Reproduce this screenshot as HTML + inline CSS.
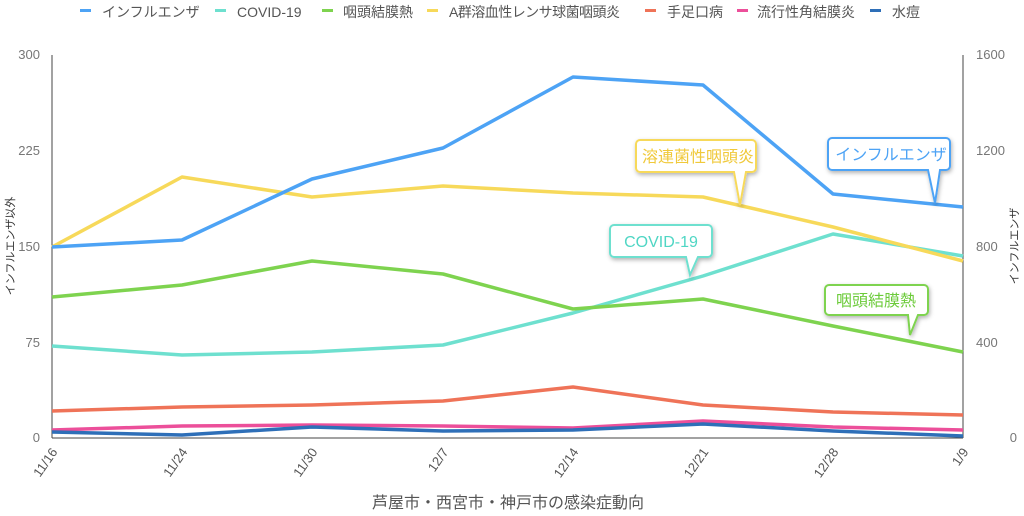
<!DOCTYPE html><html><head><meta charset="utf-8"><style>body{margin:0;background:#fff}svg{display:block;font-family:"Liberation Sans","Noto Sans CJK JP",sans-serif}</style></head><body>
<svg width="1024" height="516" viewBox="0 0 1024 516">
<defs><filter id="sh" x="-20%" y="-20%" width="140%" height="160%"><feDropShadow dx="1" dy="2" stdDeviation="2" flood-color="#000" flood-opacity="0.3"/></filter></defs>
<g font-size="14" fill="#555">
<rect x="80" y="9" width="11" height="3" fill="#4da3f5"/><text x="102" y="17">インフルエンザ</text>
<rect x="215" y="9" width="11" height="3" fill="#6ee0cf"/><text x="237" y="17">COVID-19</text>
<rect x="322" y="9" width="11" height="3" fill="#7ed34f"/><text x="343" y="17">咽頭結膜熱</text>
<rect x="427" y="9" width="11" height="3" fill="#f7d95a"/><text x="449" y="17" textLength="171">A群溶血性レンサ球菌咽頭炎</text>
<rect x="645" y="9" width="11" height="3" fill="#ef7358"/><text x="667" y="17">手足口病</text>
<rect x="737" y="9" width="11" height="3" fill="#ec4f9a"/><text x="757" y="17">流行性角結膜炎</text>
<rect x="870" y="9" width="11" height="3" fill="#2e6fb8"/><text x="892" y="17">水痘</text>
</g>
<line x1="52" y1="55" x2="52" y2="438" stroke="#444" stroke-width="1"/>
<line x1="963" y1="55" x2="963" y2="438" stroke="#444" stroke-width="1"/>
<line x1="52" y1="438" x2="963" y2="438" stroke="#444" stroke-width="1"/>
<g font-size="13" fill="#777" text-anchor="end">
<text x="40" y="59">300</text><text x="40" y="155">225</text><text x="40" y="251">150</text><text x="40" y="347">75</text><text x="40" y="442">0</text>
</g>
<g font-size="13" fill="#777" text-anchor="start">
<text x="976" y="59">1600</text><text x="976" y="155">1200</text><text x="976" y="251">800</text><text x="976" y="347">400</text><text x="1017" y="442" text-anchor="end">0</text>
</g>
<text transform="translate(14,246) rotate(-90)" font-size="11" fill="#333" text-anchor="middle">インフルエンザ以外</text>
<text transform="translate(1018,246) rotate(-90)" font-size="11" fill="#333" text-anchor="middle">インフルエンザ</text>
<g font-size="13" fill="#555" text-anchor="end">
<text transform="translate(58,452) rotate(-55)">11/16</text>
<text transform="translate(188,452) rotate(-55)">11/24</text>
<text transform="translate(318,452) rotate(-55)">11/30</text>
<text transform="translate(449,452) rotate(-55)">12/7</text>
<text transform="translate(579,452) rotate(-55)">12/14</text>
<text transform="translate(709,452) rotate(-55)">12/21</text>
<text transform="translate(839,452) rotate(-55)">12/28</text>
<text transform="translate(969,452) rotate(-55)">1/9</text>
</g>
<text x="508" y="508" font-size="16" fill="#555" text-anchor="middle">芦屋市・西宮市・神戸市の感染症動向</text>
<g fill="none" stroke-width="3.5" stroke-linejoin="round">
<polyline stroke="#ef7358" points="52,411 182,407 312,405 443,401 573,387 703,405 833,412 963,415"/>
<polyline stroke="#ec4f9a" points="52,430 182,426 312,425 443,426 573,428 703,421 833,427 963,430"/>
<polyline stroke="#2e6fb8" points="52,432 182,435 312,427 443,431 573,430 703,424 833,431 963,436"/>
<polyline stroke="#6ee0cf" points="52,346 182,355 312,352 443,345 573,313 703,276 833,234 963,256"/>
<polyline stroke="#7ed34f" points="52,297 182,285 312,261 443,274 573,309 703,299 833,326 963,352"/>
<polyline stroke="#f7d95a" points="52,247 182,177 312,197 443,186 573,193 703,197 833,227 963,261"/>
<polyline stroke="#4da3f5" points="52,247 182,240 312,179 443,148 573,77 703,85 833,194 963,207"/>
</g>
<g font-size="16" text-anchor="middle" stroke-width="2" filter="url(#sh)">
<path d="M640,140 h112 a4,4 0 0 1 4,4 v24 a4,4 0 0 1 -4,4 h-6 l-6,33 l-6,-33 h-94 a4,4 0 0 1 -4,-4 v-24 a4,4 0 0 1 4,-4z" fill="#fff" stroke="#f7d95a"/>
<path d="M832,138 h114 a4,4 0 0 1 4,4 v24 a4,4 0 0 1 -4,4 h-6 l-5,33 l-7,-33 h-96 a4,4 0 0 1 -4,-4 v-24 a4,4 0 0 1 4,-4z" fill="#fff" stroke="#4da3f5"/>
<path d="M614,225 h94 a4,4 0 0 1 4,4 v24 a4,4 0 0 1 -4,4 h-10 l-8,18 l-4,-18 h-72 a4,4 0 0 1 -4,-4 v-24 a4,4 0 0 1 4,-4z" fill="#fff" stroke="#6ee0cf"/>
<path d="M829,285 h95 a4,4 0 0 1 4,4 v22 a4,4 0 0 1 -4,4 h-6 l-8,20 l-2,-20 h-79 a4,4 0 0 1 -4,-4 v-22 a4,4 0 0 1 4,-4z" fill="#fff" stroke="#7ed34f"/>
</g>
<g font-size="16" text-anchor="middle">
<text x="698" y="162" fill="#f0c93a">溶連菌性咽頭炎</text>
<text x="891" y="160" fill="#4da3f5">インフルエンザ</text>
<text x="661" y="247" fill="#4fd6c4">COVID-19</text>
<text x="876" y="306" fill="#6ccb3a">咽頭結膜熱</text>
</g>
</svg></body></html>
